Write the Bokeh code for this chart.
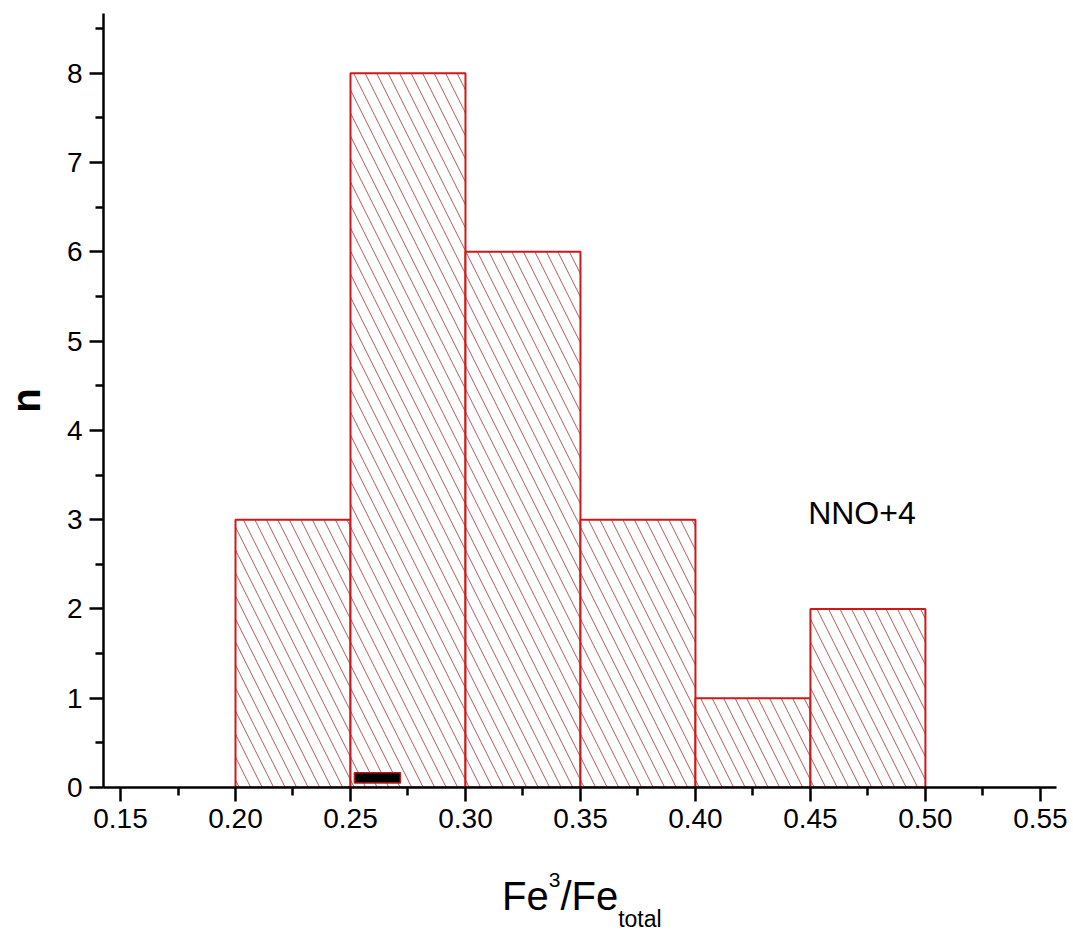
from bokeh.plotting import figure
from bokeh.models import Range1d, FixedTicker, Label, ColumnDataSource, Div
from bokeh.layouts import column
from bokeh.embed import file_html
from bokeh.resources import INLINE

# Histogram of Fe3+/Fe_total ratios (bin edges and counts)
bin_left = [0.20, 0.25, 0.30, 0.35, 0.40, 0.45]
bin_right = [0.25, 0.30, 0.35, 0.40, 0.45, 0.50]
counts = [3, 8, 6, 3, 1, 2]

# Small marker bar near the base of the 0.25-0.30 bin
marker_left = [0.2517]
marker_right = [0.2717]
marker_bottom = [0.05]
marker_top = [0.165]

x_major = [0.15, 0.20, 0.25, 0.30, 0.35, 0.40, 0.45, 0.50, 0.55]
x_minor = [0.175, 0.225, 0.275, 0.325, 0.375, 0.425, 0.475, 0.525]
y_major = [0, 1, 2, 3, 4, 5, 6, 7, 8]
y_minor = [0.5, 1.5, 2.5, 3.5, 4.5, 5.5, 6.5, 7.5, 8.5]

FONT = "Liberation Sans"

p = figure(
    width=1073, height=842,
    x_range=Range1d(0.1426, 0.557), y_range=Range1d(0, 8.67),
    output_backend="svg", toolbar_location=None,
    min_border_left=103, min_border_right=17,
    min_border_top=13, min_border_bottom=55,
)
p.outline_line_color = None
p.xgrid.visible = False
p.ygrid.visible = False
p.background_fill_color = "white"
p.border_fill_color = "white"

src = ColumnDataSource(dict(left=bin_left, right=bin_right, top=counts,
                            bottom=[0] * len(counts)))
p.quad(left="left", right="right", top="top", bottom="bottom", source=src,
       fill_color="white", line_color="#d01818", line_width=2,
       hatch_pattern="left_diagonal_line", hatch_color="#b05a5a",
       hatch_scale=23, hatch_weight=1)

p.quad(left=marker_left, right=marker_right, top=marker_top, bottom=marker_bottom,
       fill_color="black", line_color="#c01818", line_width=1.5)

for ax in (p.xaxis[0], p.yaxis[0]):
    ax.axis_line_width = 2.5
    ax.axis_line_color = "black"
    ax.major_tick_line_width = 2.5
    ax.minor_tick_line_width = 2.5
    ax.major_tick_line_color = "black"
    ax.minor_tick_line_color = "black"
    ax.major_tick_out = 14
    ax.major_tick_in = 0
    ax.minor_tick_out = 8
    ax.minor_tick_in = 0
    ax.major_label_text_font = FONT
    ax.major_label_text_font_size = "28px"
    ax.major_label_text_color = "black"

p.xaxis.ticker = FixedTicker(ticks=x_major, minor_ticks=x_minor)
p.xaxis.major_label_overrides = {t: f"{t:.2f}" for t in x_major}
p.xaxis.major_label_standoff = 7
p.yaxis.ticker = FixedTicker(ticks=y_major, minor_ticks=y_minor)
p.yaxis.major_label_standoff = 7

p.yaxis.axis_label = "n"
p.yaxis.axis_label_text_font = FONT
p.yaxis.axis_label_text_font_size = "40px"
p.yaxis.axis_label_text_font_style = "bold"
p.yaxis.axis_label_text_color = "black"
p.yaxis.axis_label_standoff = 16

p.add_layout(Label(x=0.449, y=3.07, text="NNO+4", text_font=FONT,
                   text_font_size="32px", text_color="black",
                   text_baseline="alphabetic"))

# x-axis title with superscript and subscript
xtitle = Div(
    width=1073, height=91, margin=0,
    text=(
        '<div style="position:relative;width:1073px;height:91px;'
        "font-family:'Liberation Sans';color:black;\">"
        '<div style="position:absolute;left:502px;top:34px;font-size:40px;'
        'line-height:40px;white-space:nowrap;">Fe'
        '<span style="font-size:21px;position:relative;top:-23px;">3</span>/Fe'
        '<span style="font-size:23px;position:relative;top:17px;">total</span>'
        '</div></div>'
    ),
)

layout = column(p, xtitle, spacing=0)
open("out.html", "w").write(file_html(layout, INLINE))
